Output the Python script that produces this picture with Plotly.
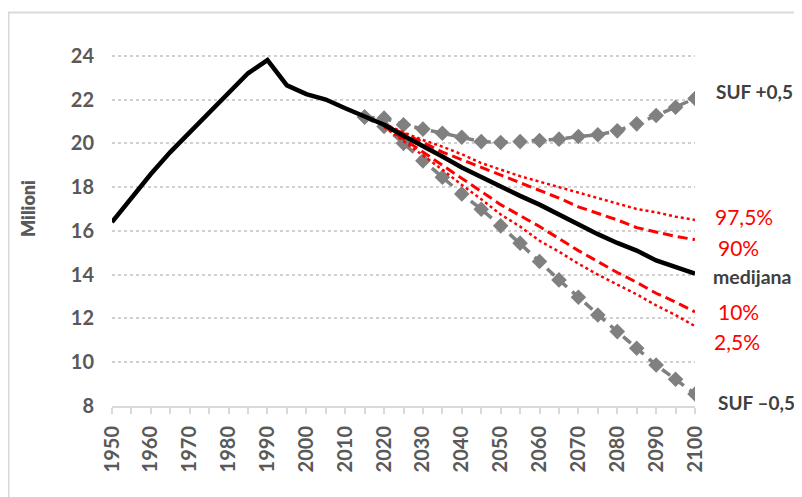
import plotly.graph_objects as go

years_all = list(range(1950, 2101, 5))
years_proj = list(range(2020, 2101, 5))
years_suf = list(range(2015, 2101, 5))

median = [16.4, 17.5, 18.6, 19.6, 20.5, 21.35, 22.3, 23.2, 23.8, 22.65, 22.25, 22.0, 21.6, 21.2,
          20.85, 20.35, 19.9, 19.4, 18.9, 18.45, 18.05, 17.6, 17.2, 16.75, 16.25, 15.85, 15.45,
          15.1, 14.65, 14.35, 14.05]
p975 = [20.9, 20.5, 20.15, 19.85, 19.5, 19.1, 18.8, 18.5, 18.25, 18.0, 17.75, 17.5, 17.25, 17.0, 16.85, 16.65, 16.5]
p90 = [20.85, 20.45, 20.05, 19.6, 19.25, 18.9, 18.55, 18.2, 17.85, 17.5, 17.1, 16.8, 16.5, 16.15, 15.95, 15.75, 15.6]
p10 = [20.8, 20.2, 19.6, 19.0, 18.4, 17.8, 17.2, 16.7, 16.2, 15.65, 15.1, 14.6, 14.1, 13.65, 13.15, 12.75, 12.3]
p025 = [20.75, 20.1, 19.45, 18.8, 18.1, 17.45, 16.75, 16.2, 15.55, 15.05, 14.5, 14.0, 13.55, 13.1, 12.6, 12.15, 11.65]
suf_hi = [21.2, 21.15, 20.85, 20.65, 20.46, 20.28, 20.08, 20.04, 20.08, 20.13, 20.19, 20.31, 20.39,
          20.57, 20.89, 21.27, 21.65, 22.05]
suf_lo = [21.2, 20.77, 20.0, 19.2, 18.45, 17.69, 16.99, 16.23, 15.44, 14.6, 13.76, 12.97, 12.16,
          11.4, 10.64, 9.87, 9.22, 8.55]

y_ticks = [8, 10, 12, 14, 16, 18, 20, 22, 24]
x_ticks = list(range(1950, 2101, 10))

labels = [
    ("SUF +0,5", 22.35, "#404040", 700, 19, 19),
    ("97,5%", 16.64, "#ff0000", 400, 18, 21),
    ("90%", 15.22, "#ff0000", 400, 21, 21),
    ("medijana", 13.9, "#404040", 700, 16, 19.5),
    ("10%", 12.34, "#ff0000", 400, 21, 21),
    ("2,5%", 10.93, "#ff0000", 400, 17, 21),
    ("SUF \u20130,5", 8.18, "#404040", 700, 21, 19),
]

FONT = "Lato"
GRAY = "#808080"
RED = "#ff0000"

fig = go.Figure()
fig.add_trace(go.Scatter(x=years_suf, y=suf_hi, mode="lines+markers",
                         line=dict(color=GRAY, width=3.5, dash="10px,7px"),
                         marker=dict(symbol="diamond", size=12, color=GRAY)))
fig.add_trace(go.Scatter(x=years_suf, y=suf_lo, mode="lines+markers",
                         line=dict(color=GRAY, width=3.5, dash="10px,7px"),
                         marker=dict(symbol="diamond", size=12, color=GRAY)))
fig.add_trace(go.Scatter(x=years_proj, y=p975, mode="lines",
                         line=dict(color=RED, width=2.5, dash="dot")))
fig.add_trace(go.Scatter(x=years_proj, y=p025, mode="lines",
                         line=dict(color=RED, width=2.5, dash="dot")))
fig.add_trace(go.Scatter(x=years_proj, y=p90, mode="lines",
                         line=dict(color=RED, width=3, dash="10px,5px")))
fig.add_trace(go.Scatter(x=years_proj, y=p10, mode="lines",
                         line=dict(color=RED, width=3, dash="10px,5px")))
fig.add_trace(go.Scatter(x=years_all, y=median, mode="lines",
                         line=dict(color="#000000", width=4.5)))

for text, yv, col, w, xs, fs in labels:
    fig.add_annotation(x=2100, y=yv, xref="x", yref="y", text=text, showarrow=False,
                       xanchor="left", yanchor="middle", xshift=xs,
                       font=dict(family=FONT, size=fs, color=col, weight=w))

fig.add_annotation(x=-0.144, y=0.5, xref="paper", yref="paper", text="Milioni",
                   textangle=-90, showarrow=False, xanchor="center", yanchor="middle",
                   font=dict(family=FONT, size=18, color="#595959", weight=800))

fig.add_shape(type="rect", xref="paper", yref="paper", x0=-0.1775, x1=1.3, y0=-0.3, y1=0.9987,
              line=dict(color="#d9d9d9", width=2), fillcolor="rgba(0,0,0,0)", layer="below")

fig.update_layout(
    width=794, height=489,
    margin=dict(l=104, r=107, t=4, b=91),
    paper_bgcolor="white", plot_bgcolor="white",
    showlegend=False,
    font=dict(family=FONT, color="#595959"),
    xaxis=dict(range=[1950, 2100], tickvals=x_ticks, tickangle=-90,
               showgrid=False, zeroline=False,
               showline=True, linecolor="#d9d9d9", linewidth=2,
               ticks="outside", ticklen=6, tickcolor="#d9d9d9", tickwidth=1.5,
               minor=dict(dtick=5, tick0=1950, ticks="outside", ticklen=6, tickcolor="#d9d9d9", tickwidth=1.5),
               tickfont=dict(family=FONT, size=20, color="#595959", weight=700),
               ticklabelstandoff=4),
    yaxis=dict(range=[8, 26], tickvals=y_ticks, showgrid=True, gridcolor="#d0d0d0",
               griddash="dot", gridwidth=1.5, zeroline=False, showline=False, ticks="",
               tickfont=dict(family=FONT, size=20, color="#595959", weight=700),
               ticklabelstandoff=17),
)

fig.write_html("out.html")
